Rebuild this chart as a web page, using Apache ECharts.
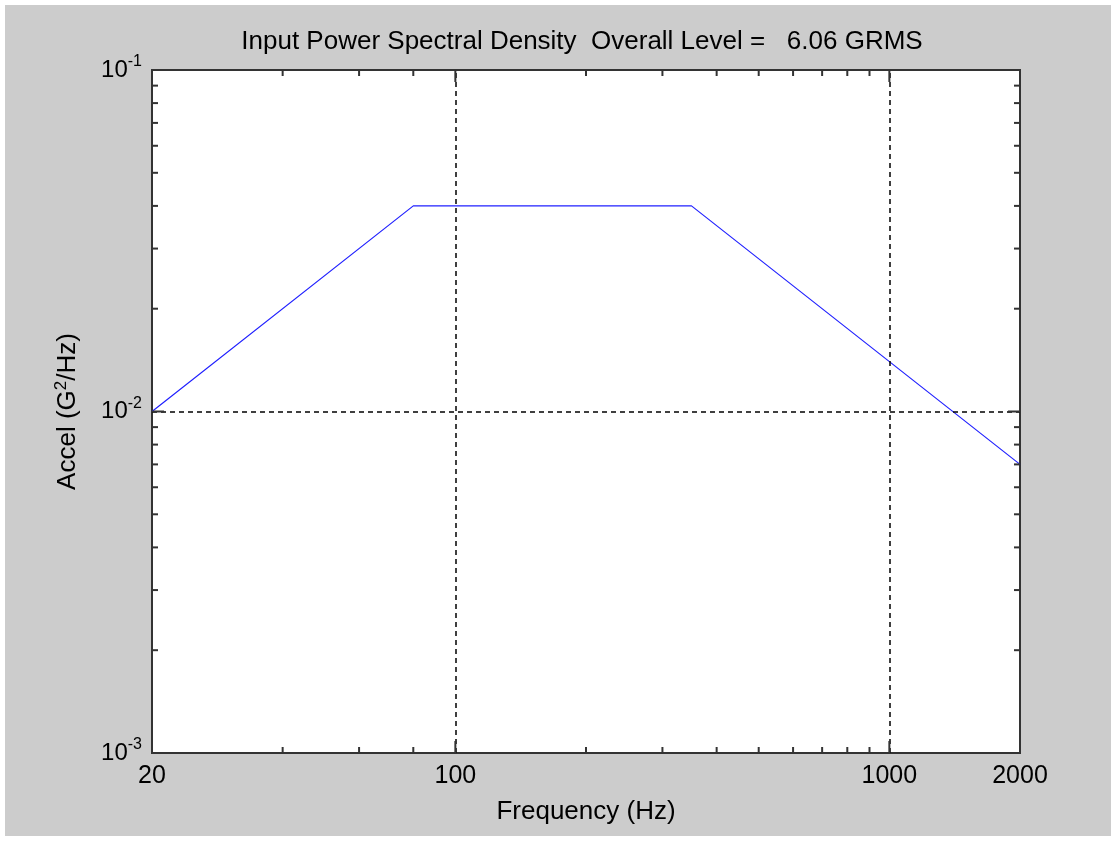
<!DOCTYPE html>
<html>
<head>
<meta charset="utf-8">
<title>Input Power Spectral Density</title>
<script src="https://cdn.jsdelivr.net/npm/echarts@6/dist/echarts.min.js"></script>
<style>
  html, body { margin: 0; padding: 0; background: #ffffff; }
  #chart { position: absolute; left: 5px; top: 5px; width: 1106px; height: 831px; }
</style>
</head>
<body>
<div id="chart"></div>
<script>
// PSD breakpoints
var freqHz = [20, 80, 350, 2000];
var psdG2Hz = [0.01, 0.04, 0.04, 0.007];

// axis labels and ticks
var xLabelValues = [20, 100, 1000, 2000];
var yLabelValues = [0.001, 0.01, 0.1];
var xMajorTicks = [100, 1000];
var xMinorTicks = [40, 60, 80, 200, 300, 400, 500, 600, 700, 800, 900];
var yMajorTicks = [0.01];
var yMinorTicks = [0.002, 0.003, 0.004, 0.005, 0.006, 0.007, 0.008, 0.009,
                   0.02, 0.03, 0.04, 0.05, 0.06, 0.07, 0.08, 0.09];
var xGridLines = [100, 1000];
var yGridLines = [0.01];

var X_MIN = 20, X_MAX = 2000, Y_MIN = 0.001, Y_MAX = 0.1;
var FONT = "'Liberation Sans', Arial, sans-serif";
var TICK_COLOR = '#333';

// tick marks drawn inside the frame on both opposite sides
function tickSeries(values, dir, len) {
  return {
    type: 'custom',
    silent: true,
    z: 5,
    data: values.map(function (v) { return dir === 'x' ? [v, Y_MIN] : [X_MIN, v]; }),
    renderItem: function (params, api) {
      var v = api.value(dir === 'x' ? 0 : 1);
      var a, b, lines;
      var st = { stroke: TICK_COLOR, lineWidth: 2 };
      if (dir === 'x') {
        a = api.coord([v, Y_MIN]); b = api.coord([v, Y_MAX]);
        lines = [
          { x1: a[0], y1: a[1], x2: a[0], y2: a[1] - len },
          { x1: b[0], y1: b[1], x2: b[0], y2: b[1] + len }
        ];
      } else {
        a = api.coord([X_MIN, v]); b = api.coord([X_MAX, v]);
        lines = [
          { x1: a[0], y1: a[1], x2: a[0] + len, y2: a[1] },
          { x1: b[0], y1: b[1], x2: b[0] - len, y2: b[1] }
        ];
      }
      return {
        type: 'group',
        children: lines.map(function (s) { return { type: 'line', shape: s, style: st }; })
      };
    }
  };
}

var chart = echarts.init(document.getElementById('chart'));
chart.setOption({
  backgroundColor: '#cccccc',
  animation: false,
  textStyle: { fontFamily: FONT },
  graphic: [{
    type: 'text',
    x: 577,
    y: 37,
    style: {
      text: 'Input Power Spectral Density  Overall Level =   6.06 GRMS',
      font: '26px ' + FONT,
      fill: '#000',
      textAlign: 'center',
      textVerticalAlign: 'middle'
    }
  }],
  grid: {
    left: 147, top: 65, right: 91, bottom: 83,
    show: true,
    backgroundColor: '#ffffff',
    borderColor: '#333',
    borderWidth: 2
  },
  xAxis: {
    type: 'log',
    logBase: 10,
    min: X_MIN,
    max: X_MAX,
    name: 'Frequency (Hz)',
    nameLocation: 'middle',
    nameGap: 46,
    nameTextStyle: { fontSize: 26, color: '#000', fontFamily: FONT },
    axisLine: { show: false },
    axisTick: { show: false },
    splitLine: { show: false },
    axisLabel: {
      customValues: xLabelValues,
      fontSize: 25,
      color: '#000',
      margin: 11,
      formatter: function (v) { return String(Math.round(v)); }
    }
  },
  yAxis: {
    type: 'log',
    logBase: 10,
    min: Y_MIN,
    max: Y_MAX,
    name: '{n|Accel (G}{s|2}{n|/Hz)}',
    nameLocation: 'middle',
    nameGap: 70,
    nameRotate: 90,
    nameTextStyle: {
      rich: {
        n: { fontSize: 26, color: '#000', fontFamily: FONT, lineHeight: 28 },
        s: { fontSize: 17, color: '#000', fontFamily: FONT, lineHeight: 17, padding: [0, 0, 14, 0] }
      }
    },
    axisLine: { show: false },
    axisTick: { show: false },
    splitLine: { show: false },
    axisLabel: {
      customValues: yLabelValues,
      margin: 10,
      formatter: function (v) {
        return '{b|10}{s|' + Math.round(Math.log10(v)) + '}';
      },
      rich: {
        b: { fontSize: 24, color: '#000', fontFamily: FONT, lineHeight: 26 },
        s: { fontSize: 16, color: '#000', fontFamily: FONT, lineHeight: 16, padding: [0, 0, 16, 0] }
      }
    }
  },
  series: [
    {
      type: 'line',
      data: freqHz.map(function (f, i) { return [f, psdG2Hz[i]]; }),
      showSymbol: false,
      lineStyle: { color: '#2020ff', width: 1.2 },
      z: 4,
      markLine: {
        silent: true,
        symbol: 'none',
        label: { show: false },
        lineStyle: { color: '#000', width: 1.5, type: [5, 4] },
        data: xGridLines.map(function (v) { return { xAxis: v }; })
          .concat(yGridLines.map(function (v) { return { yAxis: v }; }))
      }
    },
    tickSeries(xMajorTicks, 'x', 12),
    tickSeries(xMinorTicks, 'x', 6),
    tickSeries(yMajorTicks, 'y', 12),
    tickSeries(yMinorTicks, 'y', 6)
  ]
});
</script>
</body>
</html>
